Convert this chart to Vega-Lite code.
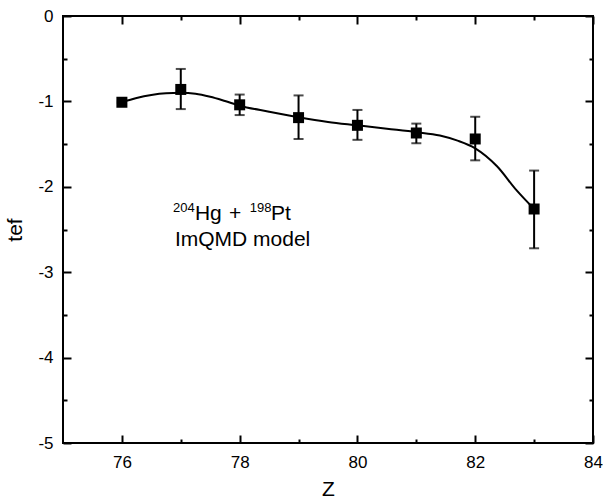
{
  "$schema": "https://vega.github.io/schema/vega-lite/v6.json",
  "autosize": "none",
  "width": 530,
  "height": 427,
  "padding": {"left": 63, "top": 16, "right": 10, "bottom": 61},
  "background": "white",
  "config": {
    "view": {"stroke": "black", "strokeWidth": 2},
    "font": "Liberation Sans",
    "axis": {"grid": false, "domain": false, "labelFont": "Liberation Sans", "titleFont": "Liberation Sans", "labelColor": "black", "titleColor": "black", "tickColor": "black", "titleFontWeight": "normal", "tickWidth": 2}
  },
  "datasets": {
    "pts": [
      {"Z": 76, "tef": -1.01, "lo": -1.02, "hi": -1.0},
      {"Z": 77, "tef": -0.86, "lo": -1.09, "hi": -0.62},
      {"Z": 78, "tef": -1.04, "lo": -1.16, "hi": -0.92},
      {"Z": 79, "tef": -1.19, "lo": -1.44, "hi": -0.93},
      {"Z": 80, "tef": -1.28, "lo": -1.45, "hi": -1.1},
      {"Z": 81, "tef": -1.37, "lo": -1.49, "hi": -1.26},
      {"Z": 82, "tef": -1.44, "lo": -1.69, "hi": -1.18},
      {"Z": 83, "tef": -2.26, "lo": -2.72, "hi": -1.81}
    ],
    "curve": [
      {"Z": 76, "tef": -1.01},
      {"Z": 76.25, "tef": -0.96},
      {"Z": 76.5, "tef": -0.925},
      {"Z": 76.75, "tef": -0.905},
      {"Z": 77, "tef": -0.9},
      {"Z": 77.25, "tef": -0.91},
      {"Z": 77.5, "tef": -0.945},
      {"Z": 77.75, "tef": -0.995},
      {"Z": 78, "tef": -1.05},
      {"Z": 78.5, "tef": -1.12},
      {"Z": 79, "tef": -1.185},
      {"Z": 79.5, "tef": -1.24},
      {"Z": 80, "tef": -1.28},
      {"Z": 80.5, "tef": -1.32},
      {"Z": 81, "tef": -1.36},
      {"Z": 81.4, "tef": -1.4},
      {"Z": 81.7, "tef": -1.46},
      {"Z": 82, "tef": -1.55},
      {"Z": 82.37, "tef": -1.76},
      {"Z": 82.7, "tef": -2.04},
      {"Z": 83, "tef": -2.26}
    ],
    "ann": [
      {"kind": "sup", "label": "204", "Z": 76.87, "tef": -2.295},
      {"kind": "main", "label": "Hg", "Z": 77.24, "tef": -2.389},
      {"kind": "main", "label": "+", "Z": 77.82, "tef": -2.389},
      {"kind": "sup", "label": "198", "Z": 78.17, "tef": -2.295},
      {"kind": "main", "label": "Pt", "Z": 78.53, "tef": -2.389},
      {"kind": "main", "label": "ImQMD model", "Z": 76.9, "tef": -2.693}
    ]
  },
  "resolve": {"axis": {"x": "independent", "y": "independent"}},
  "layer": [
    {
      "data": {"name": "curve"},
      "mark": {"type": "line", "color": "black", "strokeWidth": 2, "interpolate": "monotone"},
      "encoding": {
        "x": {"field": "Z", "type": "quantitative", "scale": {"domain": [75, 84], "nice": false, "zero": false},
          "axis": {"orient": "bottom", "values": [76, 77, 78, 79, 80, 81, 82, 83, 84],
            "tickSize": {"condition": {"test": "datum.value % 2 == 0", "value": -8}, "value": -4},
            "labelExpr": "datum.value % 2 == 0 ? '' + datum.value : ''",
            "labelPadding": 19, "labelFontSize": 17, "title": "Z", "titleFontSize": 21, "titlePadding": 8, "labelFlush": false}},
        "y": {"field": "tef", "type": "quantitative", "scale": {"domain": [-5, 0], "nice": false, "zero": false},
          "axis": {"orient": "left", "values": [-5, -4.5, -4, -3.5, -3, -2.5, -2, -1.5, -1, -0.5, 0],
            "tickSize": {"condition": {"test": "datum.value % 1 == 0", "value": -8}, "value": -4},
            "labelExpr": "datum.value % 1 == 0 ? '' + datum.value : ''",
            "labelPadding": 18, "labelFontSize": 17, "title": "tef", "titleFontSize": 21, "titlePadding": 12, "labelFlush": false}}
      }
    },
    {
      "data": {"name": "pts"},
      "mark": {"type": "rule", "color": "black", "strokeWidth": 2},
      "encoding": {
        "x": {"field": "Z", "type": "quantitative", "axis": null},
        "y": {"field": "lo", "type": "quantitative", "axis": null},
        "y2": {"field": "hi"}
      }
    },
    {
      "data": {"name": "pts"},
      "mark": {"type": "tick", "orient": "horizontal", "color": "black", "size": 10, "thickness": 2},
      "encoding": {
        "x": {"field": "Z", "type": "quantitative", "axis": null},
        "y": {"field": "lo", "type": "quantitative", "axis": null}
      }
    },
    {
      "data": {"name": "pts"},
      "mark": {"type": "tick", "orient": "horizontal", "color": "black", "size": 10, "thickness": 2},
      "encoding": {
        "x": {"field": "Z", "type": "quantitative", "axis": null},
        "y": {"field": "hi", "type": "quantitative", "axis": null}
      }
    },
    {
      "data": {"name": "pts"},
      "mark": {"type": "square", "color": "black", "filled": true, "opacity": 1, "size": 121},
      "encoding": {
        "x": {"field": "Z", "type": "quantitative", "axis": null},
        "y": {"field": "tef", "type": "quantitative", "axis": null}
      }
    },
    {
      "data": {"name": "ann"},
      "transform": [{"filter": "datum.kind == 'main'"}],
      "mark": {"type": "text", "align": "left", "baseline": "alphabetic", "fontSize": 21, "color": "black", "font": "Liberation Sans"},
      "encoding": {
        "x": {"field": "Z", "type": "quantitative", "axis": null},
        "y": {"field": "tef", "type": "quantitative", "axis": null},
        "text": {"field": "label"}
      }
    },
    {
      "data": {"name": "ann"},
      "transform": [{"filter": "datum.kind == 'sup'"}],
      "mark": {"type": "text", "align": "left", "baseline": "alphabetic", "fontSize": 13, "color": "black", "font": "Liberation Sans"},
      "encoding": {
        "x": {"field": "Z", "type": "quantitative", "axis": null},
        "y": {"field": "tef", "type": "quantitative", "axis": null},
        "text": {"field": "label"}
      }
    },
    {
      "data": {"name": "pts"},
      "mark": {"type": "point", "opacity": 0},
      "encoding": {
        "x": {"field": "Z", "type": "quantitative", "axis": {"orient": "top", "values": [76, 77, 78, 79, 80, 81, 82, 83, 84], "labels": false, "title": null,
          "tickSize": {"condition": {"test": "datum.value % 2 == 0", "value": -8}, "value": -4}}},
        "y": {"field": "tef", "type": "quantitative", "axis": {"orient": "right", "values": [-5, -4.5, -4, -3.5, -3, -2.5, -2, -1.5, -1, -0.5, 0], "labels": false, "title": null,
          "tickSize": {"condition": {"test": "datum.value % 1 == 0", "value": -8}, "value": -4}}}
      }
    }
  ]
}
